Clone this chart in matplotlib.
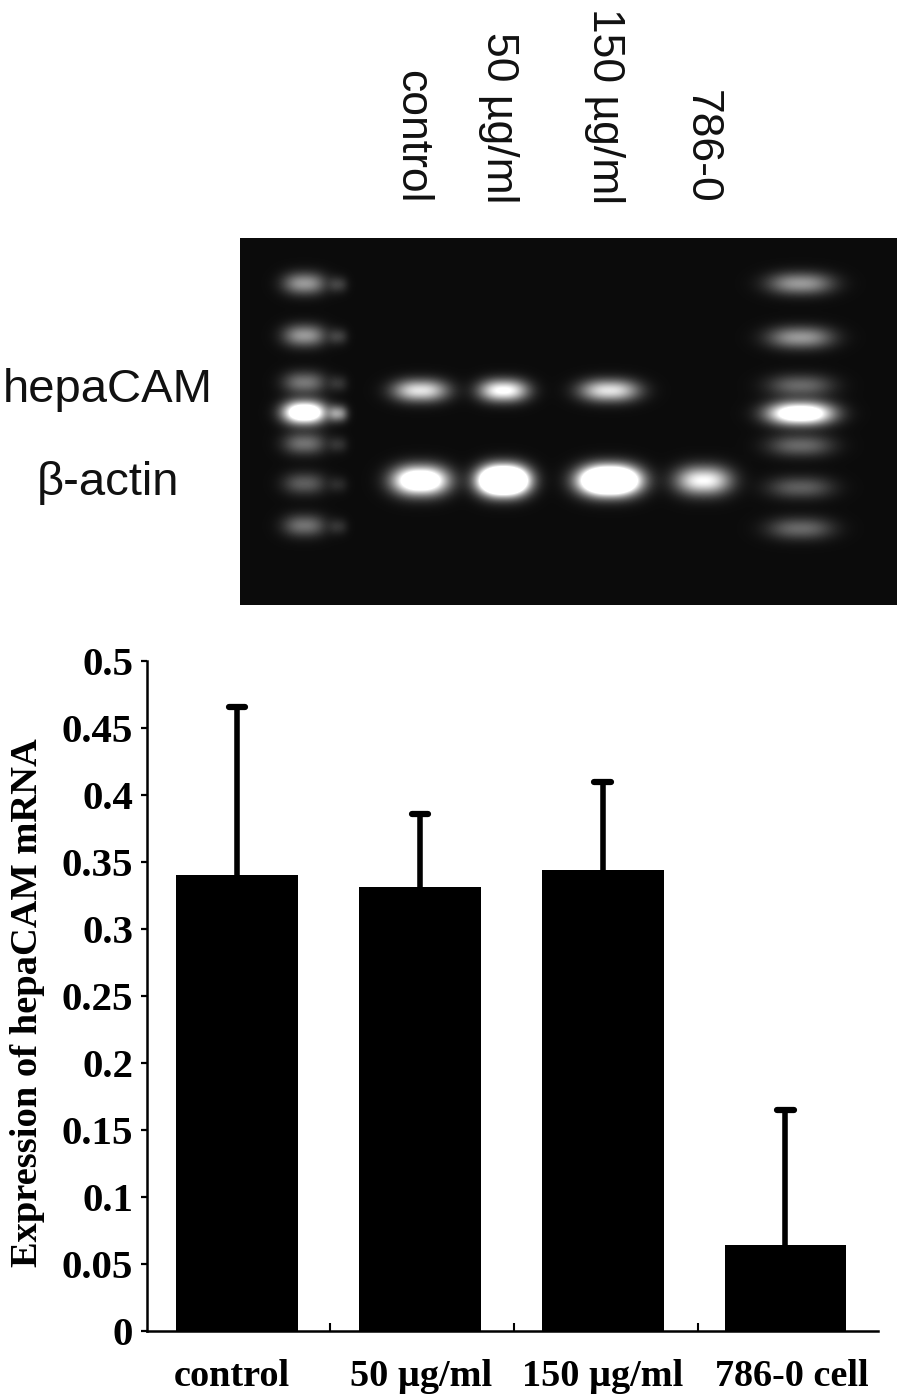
import numpy as np
import matplotlib
matplotlib.use('Agg')
import matplotlib.pyplot as plt

# bar chart values
categories = ['control', '50 µg/ml', '150 µg/ml', '786-0 cell']
means = [0.340, 0.331, 0.344, 0.064]
err_tops = [0.466, 0.386, 0.410, 0.165]
y_ticks = [0, 0.05, 0.1, 0.15, 0.2, 0.25, 0.3, 0.35, 0.4, 0.45, 0.5]
y_tick_labels = ['0', '0.05', '0.1', '0.15', '0.2', '0.25', '0.3', '0.35', '0.4', '0.45', '0.5']

# gel bands: lane centre, row, half widths and brightness (gel pixels)
lane_labels = ['control', '50 µg/ml', '150 µg/ml', '786-0']
gel_size = (657, 367)
ladder_left_y = [45, 97, 144, 174, 205, 245, 287]
ladder_left_amp = [0.55, 0.55, 0.42, 1.5, 0.40, 0.32, 0.40]
ladder_right_y = [45, 99, 147, 175, 207, 249, 290]
ladder_right_amp = [0.55, 0.55, 0.36, 1.4, 0.36, 0.32, 0.36]
sample_x = [180, 263, 369, 463]
hepacam_amp = [0.85, 1.0, 0.85, 0.0]
actin_amp = [1.5, 2.6, 2.4, 0.95]
sample_half_w = [27, 24, 29, 27]


def band(xx, yy, x0, y0, sx, sy, amp):
    return amp * np.exp(-(((xx - x0) / sx) ** 4) ** 0.6 - ((yy - y0) / sy) ** 2)


def make_gel():
    xx, yy = np.meshgrid(np.arange(gel_size[0]), np.arange(gel_size[1]))
    img = np.full(xx.shape, 0.045)
    for y0, a in zip(ladder_left_y, ladder_left_amp):
        img += band(xx, yy, 64, y0, 21, 11, a)
        img += band(xx, yy, 98, y0 + 1, 9, 8, a * 0.35)
    for y0, a in zip(ladder_right_y, ladder_right_amp):
        img += band(xx, yy, 560, y0, 32, 11, a)
    for x0, w, a1, a2 in zip(sample_x, sample_half_w, hepacam_amp, actin_amp):
        img += band(xx, yy, x0, 152, w, 11, a1)
        img += band(xx, yy, x0, 242, w, 14, a2)
    return np.clip(img, 0, 1)


W, H = 902, 1397
fig = plt.figure(figsize=(W / 100, H / 100), dpi=100)


def px_axes(x0, y0, x1, y1):
    return fig.add_axes([x0 / W, 1 - y1 / H, (x1 - x0) / W, (y1 - y0) / H])


# gel picture
ax_gel = px_axes(240, 238, 897, 605)
ax_gel.imshow(make_gel(), cmap='gray', vmin=0, vmax=1, aspect='auto', interpolation='bilinear')
ax_gel.axis('off')

sans = 'Liberation Sans'
serif = 'Liberation Serif'

for name, x in zip(lane_labels, [412, 499, 604, 701]):
    fig.text(x / W, 1 - 204 / H, name, rotation=270, family=sans, fontsize=32,
             ha='center', va='bottom', color='#111111')
fig.text(108 / W, 1 - 390 / H, 'hepaCAM', family=sans, fontsize=34, ha='center', va='center', color='#111111')
fig.text(108 / W, 1 - 483 / H, 'β-actin', family=sans, fontsize=34, ha='center', va='center', color='#111111')

# bar chart
ax = px_axes(147, 661, 878, 1331)
x = np.arange(len(categories))
ax.bar(x, means, width=0.667, color='black')
for xi, m, top in zip(x, means, err_tops):
    ax.plot([xi, xi], [m, top], color='black', lw=4, solid_capstyle='butt')
    ax.plot([xi - 0.045, xi + 0.045], [top, top], color='black', lw=4.5, solid_capstyle='round')

ax.set_xlim(-0.492, 3.506)
ax.set_ylim(0, 0.5)
ax.spines['top'].set_visible(False)
ax.spines['right'].set_visible(False)
ax.spines['left'].set_linewidth(1.8)
ax.spines['bottom'].set_linewidth(1.8)

ax.set_yticks(y_ticks)
ax.set_yticklabels(y_tick_labels, family=serif, fontweight='bold', fontsize=29.5)
ax.tick_params(axis='y', direction='out', length=4, width=1.6, pad=6)
ax.set_xticks([0.51, 1.515, 2.52])
ax.set_xticklabels([])
ax.tick_params(axis='x', direction='in', length=6, width=1.5)

for name, cx in zip(categories, [232, 421, 603, 792]):
    fig.text(cx / W, 1 - 1377 / H, name, family=serif, fontweight='bold', fontsize=27.5,
             ha='center', va='center')

fig.text(27.5 / W, 1 - 1003 / H, 'Expression of hepaCAM mRNA', rotation=90, family=serif,
         fontweight='bold', fontsize=27.7, ha='center', va='center')

fig.savefig('out.png', dpi=100, facecolor='white')
